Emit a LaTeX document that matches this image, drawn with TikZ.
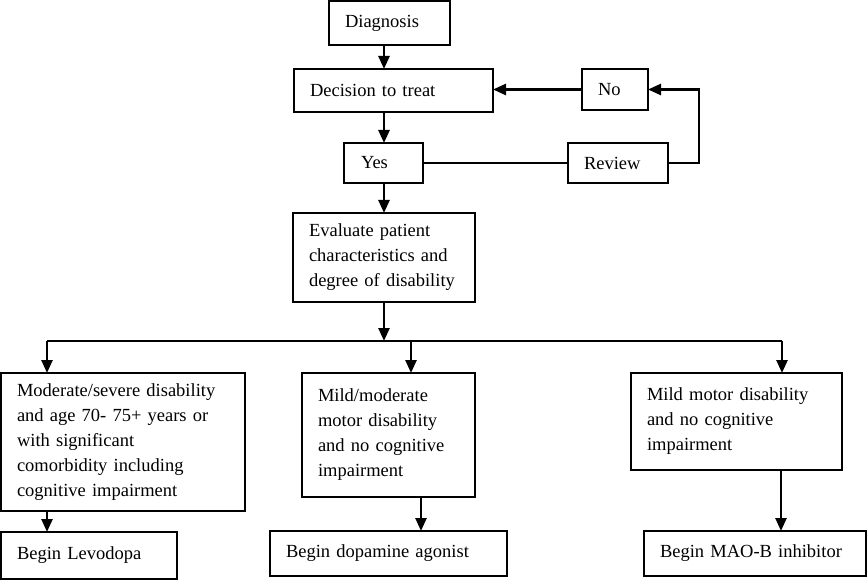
\documentclass[tikz,border=0pt]{standalone}
\usepackage{fontspec}
\setmainfont{Liberation Serif}
\usetikzlibrary{arrows.meta}
\begin{document}
\begin{tikzpicture}[x=1pt,y=-1pt]
    \tikzset{
        box/.style 2 args={draw, line width=2pt, outer sep=0pt, anchor=north west, align=left, inner xsep=16pt, inner ysep=0pt, text width=#1, minimum height=#2, font=\fontsize{18.5}{25}\selectfont},
        arc/.style={-{Triangle[length=13pt,width=11pt]}, line width=2.5pt},
        link/.style={line width=2.2pt}
    }
    \useasboundingbox (0,0) rectangle (868,580);

    \draw node[box={89pt}{44pt}] (diag) at (329,1) {Diagnosis};
    \draw node[box={167pt}{43pt}] (dec) at (294,69) {Decision to treat};
    \draw node[box={45pt}{40pt}, inner xsep=17pt] (yes) at (344,143) {Yes};
    \draw node[box={68pt}{40pt}] (review) at (568,143) {Review};
    \draw node[box={34pt}{41pt}] (no) at (582,69) {No};
    \draw node[box={150pt}{89pt}] (eval) at (293,213) {Evaluate patient\\characteristics and\\degree of disability};
    \draw node[box={212pt}{138pt}] (severe) at (1,373) {Moderate/severe disability\\and age 70- 75+ years or\\with significant\\comorbidity including\\cognitive impairment};
    \draw node[box={141pt}{124pt}] (moderate) at (302,373) {Mild/moderate\\motor disability\\and no cognitive\\impairment};
    \draw node[box={179pt}{97pt}] (mild) at (631,373) {Mild motor disability\\and no cognitive\\impairment};
    \draw node[box={144pt}{47pt}] (levodopa) at (1,532) {Begin Levodopa};
    \draw node[box={205pt}{45pt}] (agonist) at (270,531) {Begin dopamine agonist};
    \draw node[box={190pt}{45pt}] (maob) at (644,531) {Begin MAO-B inhibitor};

    % split points on the bus and lower arrows
    \coordinate (split) at (384,341);
    \foreach \n/\x in {ta/47, tb/411, tc/782, ua/47, ub/421, uc/781}{
        \coordinate (\n) at (\x,341);
    }

    \foreach \x/\y in {diag/dec, dec/yes}{
        \draw[arc] (\x.south -| eval) -- (\y.north -| eval);
    }
    \draw[arc] (yes.south -| eval) -- (eval.north);
    \draw[link] (yes.east) -- (review.west);
    \draw[arc] (review.east) -- ++(31,0) |- (no.east);
    \draw[arc] (no.west) -- (no.west -| dec.east);
    \draw[arc] (eval.south) -- (eval.south |- split);
    \draw[link] (ta) -- (tc);
    \foreach \t/\b in {ta/severe, tb/moderate, tc/mild}{
        \draw[arc] (\t) -- (\t |- \b.north);
    }
    \foreach \t/\a/\b in {ua/severe/levodopa, ub/moderate/agonist, uc/mild/maob}{
        \draw[arc] (\a.south -| \t) -- (\b.north -| \t);
    }
\end{tikzpicture}
\end{document}
